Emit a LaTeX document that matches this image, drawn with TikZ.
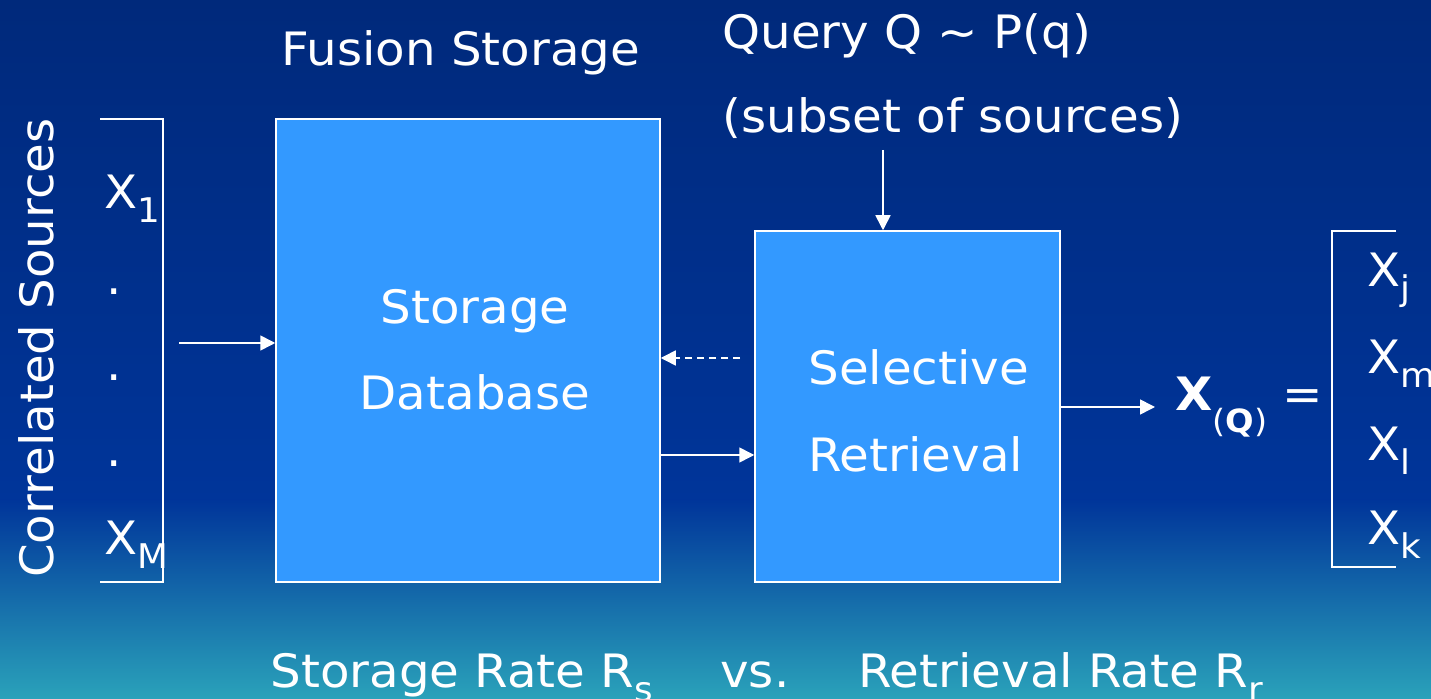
\documentclass[tikz,border=0pt]{standalone}
\usepackage{fontspec}
\setmainfont[FakeStretch=1.05]{DejaVu Sans}
\usetikzlibrary{arrows.meta}
\definecolor{navytop}{HTML}{00297B}
\definecolor{navymid}{HTML}{00359A}
\definecolor{tealbot}{HTML}{2AA2BA}
\definecolor{boxblue}{HTML}{3399FF}
% subscripts in text mode
\newcommand{\sbs}[1]{\raisebox{-7pt}{\fontsize{17}{17}\selectfont #1}}
\newcommand{\sbq}[1]{\raisebox{-11pt}{\fontsize{16}{16}\selectfont #1}}
\begin{document}
\begin{tikzpicture}[x=0.5pt,y=-0.5pt,
  lbl/.style={text=white, inner sep=0pt, font=\fontsize{23}{27}\selectfont},
  blk/.style={draw=white, line width=0.75pt, fill=boxblue, inner sep=0pt},
  wire/.style={draw=white, line width=0.8pt},
  arr/.style={wire, -{Triangle[length=7.5pt,width=7.5pt]}},
  darr/.style={arr, dash pattern=on 3.5pt off 2.5pt}]
\useasboundingbox (0,0) rectangle (1431,699);
% background
\shade[top color=navytop, bottom color=navymid] (0,0) rectangle (1431,501);
\shade[top color=navymid, bottom color=tealbot] (0,500) rectangle (1431,699);

% blocks
\node[blk, minimum width=192pt, minimum height=231.5pt] (db) at (468,350.5) {};
\node[blk, minimum width=152.5pt, minimum height=175.5pt] (sr) at (907.5,406.5) {};

% block texts
\node[lbl, anchor=base] (dbt1) at (475,324) {Storage};
\node[lbl, anchor=base] (dbt2) at (475,410) {Database};
\node[lbl, anchor=base west] (srt1) at (808,385) {Selective};
\node[lbl, anchor=base west] (srt2) at (808,472) {Retrieval};

% headings
\node[lbl, anchor=base west] (fus) at (281,66) {Fusion Storage};
\node[lbl, anchor=base west] (qry) at (722,49) {Query Q \textasciitilde{} P(q)};
\node[lbl, anchor=base west] (qsub) at (722,133) {(subset of sources)};

% sources
\node[lbl, rotate=90, anchor=base] (cs) at (54,348) {Correlated Sources};
\node[lbl, anchor=base west] (x1) at (104,209) {X\sbs{1}};
\node[lbl, anchor=base west] (d1) at (106,295) {.};
\node[lbl, anchor=base west] (d2) at (106,381) {.};
\node[lbl, anchor=base west] (d3) at (106,467) {.};
\node[lbl, anchor=base west] (xm) at (104,555) {X\sbs{M}};
\draw[wire] (100,119) -- (163,119) -- (163,582) -- (100,582);

% query output
\node[lbl, anchor=base west] (xq) at (1175,411)
  {\textbf{X}\sbq{(\textbf{Q})} =};
\draw[wire] (1396,231) -- (1332,231) -- (1332,567) -- (1396,567);
\node[lbl, anchor=base west] (xj) at (1367,287) {X\sbs{j}};
\node[lbl, anchor=base west] (xmm) at (1367,374) {X\sbs{m}};
\node[lbl, anchor=base west] (xl) at (1367,461) {X\sbs{l}};
\node[lbl, anchor=base west] (xk) at (1367,545) {X\sbs{k}};

% rates
\node[lbl, anchor=base west] (rs) at (270,688) {Storage Rate R\sbs{s}};
\node[lbl, anchor=base west] (vs) at (720,688) {vs.};
\node[lbl, anchor=base west] (rr) at (858,688) {Retrieval Rate R\sbs{r}};

% connectors
\coordinate (in0) at (179,343);
\draw[arr] (in0) -- (db.west |- in0);
\coordinate (fb0) at (740,358);
\draw[darr] (fb0) -- (db.east |- fb0);
\coordinate (mid) at (700,455);
\draw[arr] (db.east |- mid) -- (sr.west |- mid);
\coordinate (q0) at (883,150);
\draw[arr] (q0) -- (sr.north -| q0);
\coordinate (out) at (1155,407);
\draw[arr] (sr.east |- out) -- (out);
\end{tikzpicture}
\end{document}
